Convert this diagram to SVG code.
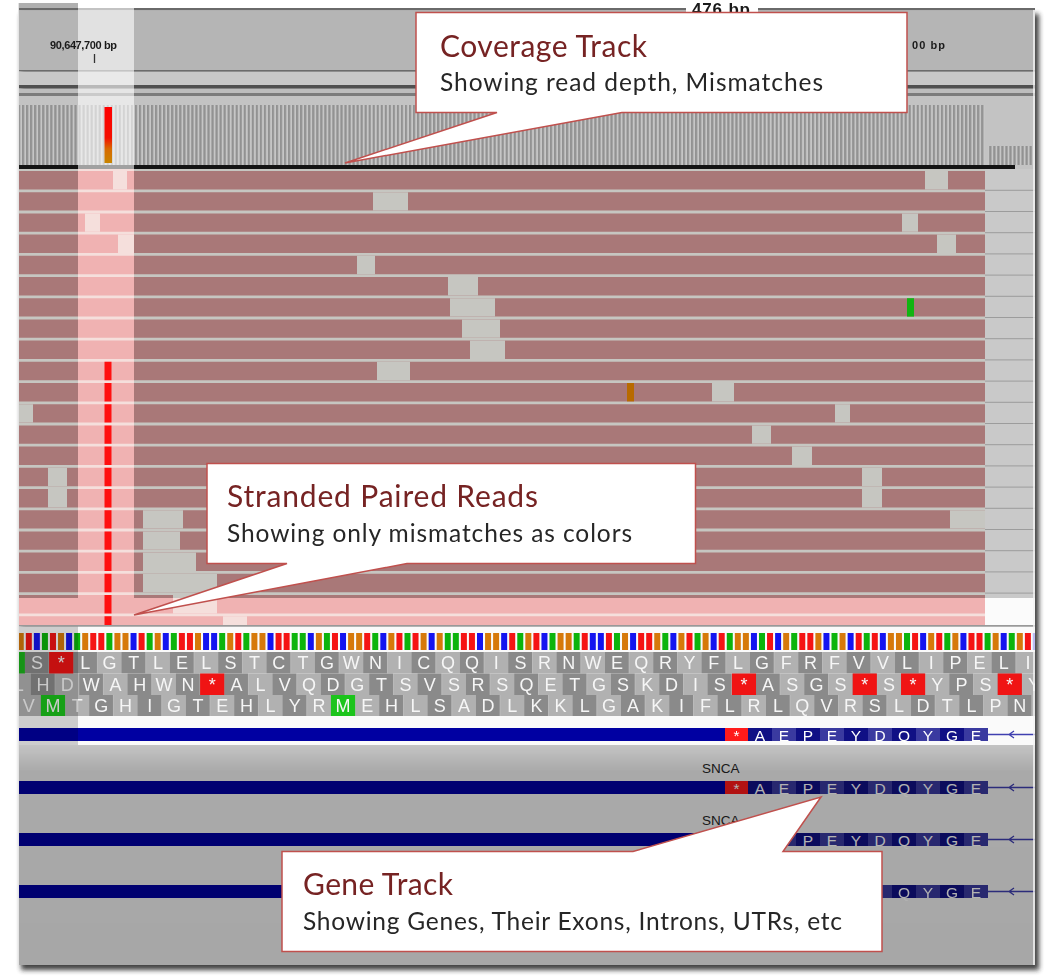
<svg xmlns="http://www.w3.org/2000/svg" width="1050" height="980" viewBox="0 0 1050 980">
<defs>
<style>
.hdr{font-family:"Liberation Sans",Arial,sans-serif;font-weight:bold;fill:#1a1a1a}
.aa{font-family:"Liberation Sans",Arial,sans-serif;font-size:18px;fill:#f6f6f6;text-anchor:middle}
.ex{font-family:"Liberation Sans",Arial,sans-serif;font-size:15.5px;fill:#ffffff;text-anchor:middle}
.gene{font-family:"Liberation Sans",Arial,sans-serif;font-size:13.5px;fill:#262626}
.box{fill:#fff;stroke:#c0504d;stroke-width:1.5;stroke-linejoin:miter}
.ttl{font-family:Lato,"Open Sans",sans-serif;font-size:30px;fill:#762323}
.sub{font-family:Lato,"Open Sans",sans-serif;font-size:24.5px;fill:#262626}
.hi{fill:#d26e6e;mix-blend-mode:screen}
</style>
<clipPath id="frame"><rect x="18" y="3" width="1017" height="962"/></clipPath>
<filter id="soft" x="-5%" y="-5%" width="110%" height="110%"><feGaussianBlur stdDeviation="2.5"/></filter>
<pattern id="cov" patternUnits="userSpaceOnUse" x="18" y="0" width="4.03" height="60"><rect width="4.03" height="60" fill="#c6c6c6"/><rect width="2.2" height="60" fill="#929292"/></pattern>
<pattern id="aaA" patternUnits="userSpaceOnUse" x="24.915" y="0" width="48.34" height="40"><rect width="24.17" height="40" fill="#8a8a8a"/><rect x="24.17" width="24.17" height="40" fill="#b1b1b1"/></pattern>
<pattern id="aaB" patternUnits="userSpaceOnUse" x="30.915" y="0" width="48.34" height="40"><rect width="24.17" height="40" fill="#8a8a8a"/><rect x="24.17" width="24.17" height="40" fill="#b1b1b1"/></pattern>
<pattern id="aaC" patternUnits="userSpaceOnUse" x="40.915" y="0" width="48.34" height="40"><rect width="24.17" height="40" fill="#8a8a8a"/><rect x="24.17" width="24.17" height="40" fill="#b1b1b1"/></pattern>
<linearGradient id="covHot" x1="0" y1="0" x2="0" y2="1"><stop offset="0" stop-color="#ff0000"/><stop offset="0.55" stop-color="#f41000"/><stop offset="0.75" stop-color="#d86a00"/><stop offset="1" stop-color="#c88400"/></linearGradient>
<linearGradient id="dim" x1="0" y1="0" x2="0" y2="1"><stop offset="0" stop-color="#000" stop-opacity="0.19"/><stop offset="0.12" stop-color="#000" stop-opacity="0.3"/><stop offset="1" stop-color="#000" stop-opacity="0.31"/></linearGradient>
<!-- one gene model: intron line, stop codon, exon codons, strand arrow -->
<g id="exset">
<rect x="18" width="707" height="13" fill="#0000a2"/>
<rect x="725" width="23" height="13" fill="#ff1a1a"/>
<path fill="#101085" d="M748 0h24v13h-24zM796 0h24v13h-24zM844 0h24v13h-24zM892 0h24v13h-24zM940 0h24v13h-24z"/>
<path fill="#3a3aa0" d="M772 0h24v13h-24zM820 0h24v13h-24zM868 0h24v13h-24zM916 0h24v13h-24zM964 0h24v13h-24z"/>
<path d="M988 6.5H1035M1014 3l-5 3.5 5 3.5" fill="none" stroke="#4040b0" stroke-width="1.3"/>
</g>
</defs>

<rect width="1050" height="980" fill="#fff"/>
<!-- frame shadow -->
<rect x="21" y="14" width="1018" height="956" fill="#222" opacity="0.85" filter="url(#soft)"/>

<g id="screen" clip-path="url(#frame)">
<!-- ruler header -->
<rect x="18" y="3" width="60" height="6" fill="#b0b0b0"/>
<rect x="18" y="8" width="1017" height="2.5" fill="#6a6a6a"/>
<rect x="18" y="10.5" width="1017" height="60" fill="#b5b5b5"/>
<rect x="18" y="70" width="1017" height="1.5" fill="#6c6c6c"/>
<rect x="18" y="71.5" width="1017" height="13.5" fill="#c8c8c8"/>
<rect x="18" y="85" width="1017" height="3.5" fill="#505050"/>
<rect x="18" y="88.5" width="1017" height="4.5" fill="#bdbdbd"/>
<rect x="18" y="93" width="1017" height="3" fill="#7c7c7c"/>
<rect x="18" y="96" width="1017" height="73" fill="#c3c3c3"/>
<!-- coverage track -->
<rect x="18" y="105" width="967" height="60" fill="url(#cov)"/>
<rect x="988" y="146" width="44" height="19" fill="url(#cov)"/>
<rect x="18" y="165" width="997" height="4" fill="#141414"/>

<!-- alignment rows -->
<g id="reads">
<rect x="18" y="169" width="967" height="456" fill="#c6c6c1"/>
<path fill="#a97878" d="M18 171h967v18.4H18zM18 192.2h967v18.4H18zM18 213.4h967v18.4H18zM18 234.6h967v18.4H18zM18 255.8h967v18.4H18zM18 277h967v18.4H18zM18 298.2h967v18.4H18zM18 319.4h967v18.4H18zM18 340.6h967v18.4H18zM18 361.8h967v18.4H18zM18 383h967v18.4H18zM18 404.2h967v18.4H18zM18 425.4h967v18.4H18zM18 446.6h967v18.4H18zM18 467.8h967v18.4H18zM18 489h967v18.4H18zM18 510.2h967v18.4H18zM18 531.4h967v18.4H18zM18 552.6h967v18.4H18zM18 573.8h967v18.4H18zM18 595h967v18.4H18zM18 616.2h967v8.8H18z"/>
<path fill="#c6c6c1" d="M113 171h14v18.4h-14zM925 171h23v18.4h-23zM373 192.2h35v18.4h-35zM85 213.4h15v18.4h-15zM902 213.4h16v18.4h-16zM118 234.6h16v18.4h-16zM937 234.6h19v18.4h-19zM357 255.8h18v18.4h-18zM448 277h30v18.4h-30zM450 298.2h45v18.4h-45zM462 319.4h38v18.4h-38zM470 340.6h35v18.4h-35zM377 361.8h33v18.4h-33zM712 383h22v18.4h-22zM18 404.2h15v18.4h-15zM835 404.2h15v18.4h-15zM752 425.4h19v18.4h-19zM792 446.6h20v18.4h-20zM48 467.8h19v18.4h-19zM862 467.8h20v18.4h-20zM48 489h19v18.4h-19zM862 489h20v18.4h-20zM143 510.2h40v18.4h-40zM950 510.2h35v18.4h-35zM143 531.4h37v18.4h-37zM143 552.6h53v18.4h-53zM143 573.8h74v18.4h-74zM173 595h44v18.4h-44zM223 616.2h24v8.8h-24z"/>
<rect x="907" y="298.2" width="7" height="18.4" fill="#12b412"/>
<rect x="627" y="383" width="7" height="18.4" fill="#b86a00"/>
</g>
<rect x="985" y="169" width="50" height="429" fill="#c9c9c9"/>
<path stroke="#9c9c9c" stroke-width="1" d="M985 190.3h50M985 211.5h50M985 232.7h50M985 253.9h50M985 275.1h50M985 296.3h50M985 317.5h50M985 338.7h50M985 359.9h50M985 381.1h50M985 402.3h50M985 423.5h50M985 444.7h50M985 465.9h50M985 487.1h50M985 508.3h50M985 529.5h50M985 550.7h50M985 571.9h50M985 593.1h50"/>

<!-- highlighted column and bottom strip -->
<rect x="78" y="3" width="56" height="166" fill="#fff" opacity="0.6"/>
<rect class="hi" x="78" y="169" width="56" height="456"/>
<rect class="hi" x="18" y="598" width="60" height="27"/>
<rect class="hi" x="134" y="598" width="851" height="27"/>
<rect x="985" y="598" width="50" height="27" fill="#fbfbfb"/>
<rect x="104.5" y="107" width="7.5" height="56" fill="url(#covHot)"/>
<path fill="#ff1010" d="M104.5 361.8h7v18.4h-7zM104.5 383h7v18.4h-7zM104.5 404.2h7v18.4h-7zM104.5 425.4h7v18.4h-7zM104.5 446.6h7v18.4h-7zM104.5 467.8h7v18.4h-7zM104.5 489h7v18.4h-7zM104.5 510.2h7v18.4h-7zM104.5 531.4h7v18.4h-7zM104.5 552.6h7v18.4h-7zM104.5 573.8h7v18.4h-7zM104.5 595h7v18.4h-7zM104.5 616.2h7v8.8h-7z"/>

<text class="hdr" x="50" y="48.5" font-size="11" textLength="67">90,647,700 bp</text>
<path d="M94.5 54v9" stroke="#333" stroke-width="1.3"/>
<text class="hdr" x="912" y="48.5" font-size="11" textLength="33">00 bp</text>
<rect x="686" y="0" width="72" height="12" fill="#fff"/>
<text class="hdr" x="692" y="15" font-size="17" textLength="58">476 bp</text>

<!-- sequence and translation -->
<rect x="18" y="625" width="1017" height="1.5" fill="#999"/>
<rect x="18" y="626.5" width="1017" height="118.5" fill="#fafafa"/>
<g id="sequence">
<path fill="#0cb40c" d="M41.92 633h6v17h-6zM74.15 633h6v17h-6zM106.38 633h6v17h-6zM146.66 633h6v17h-6zM170.83 633h6v17h-6zM219.18 633h6v17h-6zM243.35 633h6v17h-6zM291.69 633h6v17h-6zM299.75 633h6v17h-6zM323.92 633h6v17h-6zM372.26 633h6v17h-6zM404.49 633h6v17h-6zM444.77 633h6v17h-6zM452.83 633h6v17h-6zM517.28 633h6v17h-6zM549.51 633h6v17h-6zM573.68 633h6v17h-6zM613.97 633h6v17h-6zM662.31 633h6v17h-6zM694.54 633h6v17h-6zM726.77 633h6v17h-6zM758.99 633h6v17h-6zM791.22 633h6v17h-6zM831.51 633h6v17h-6zM863.74 633h6v17h-6zM904.02 633h6v17h-6zM944.31 633h6v17h-6zM984.59 633h6v17h-6zM1008.76 633h6v17h-6z"/>
<path fill="#1414f0" d="M33.86 633h6v17h-6zM66.09 633h6v17h-6zM130.55 633h6v17h-6zM162.78 633h6v17h-6zM203.06 633h6v17h-6zM211.12 633h6v17h-6zM267.52 633h6v17h-6zM307.8 633h6v17h-6zM340.03 633h6v17h-6zM380.32 633h6v17h-6zM428.66 633h6v17h-6zM477 633h6v17h-6zM501.17 633h6v17h-6zM541.46 633h6v17h-6zM589.8 633h6v17h-6zM597.85 633h6v17h-6zM630.08 633h6v17h-6zM670.37 633h6v17h-6zM710.65 633h6v17h-6zM750.94 633h6v17h-6zM775.11 633h6v17h-6zM823.45 633h6v17h-6zM847.62 633h6v17h-6zM879.85 633h6v17h-6zM920.13 633h6v17h-6zM960.42 633h6v17h-6zM1000.7 633h6v17h-6zM1032.93 633h6v17h-6z"/>
<path fill="#d6790a" d="M17.75 633h6v17h-6zM58.04 633h6v17h-6zM82.21 633h6v17h-6zM114.43 633h6v17h-6zM122.49 633h6v17h-6zM154.72 633h6v17h-6zM195 633h6v17h-6zM227.23 633h6v17h-6zM251.4 633h6v17h-6zM259.46 633h6v17h-6zM315.86 633h6v17h-6zM348.09 633h6v17h-6zM356.14 633h6v17h-6zM388.37 633h6v17h-6zM420.6 633h6v17h-6zM436.71 633h6v17h-6zM485.06 633h6v17h-6zM493.11 633h6v17h-6zM525.34 633h6v17h-6zM557.57 633h6v17h-6zM565.63 633h6v17h-6zM622.03 633h6v17h-6zM654.25 633h6v17h-6zM678.42 633h6v17h-6zM702.6 633h6v17h-6zM734.82 633h6v17h-6zM742.88 633h6v17h-6zM783.17 633h6v17h-6zM815.39 633h6v17h-6zM839.56 633h6v17h-6zM887.91 633h6v17h-6zM895.96 633h6v17h-6zM928.19 633h6v17h-6zM952.36 633h6v17h-6zM992.65 633h6v17h-6zM1016.82 633h6v17h-6z"/>
<path fill="#f51414" d="M25.81 633h6v17h-6zM49.98 633h6v17h-6zM90.26 633h6v17h-6zM98.32 633h6v17h-6zM138.61 633h6v17h-6zM178.89 633h6v17h-6zM186.95 633h6v17h-6zM235.29 633h6v17h-6zM275.57 633h6v17h-6zM283.63 633h6v17h-6zM331.97 633h6v17h-6zM364.2 633h6v17h-6zM396.43 633h6v17h-6zM412.54 633h6v17h-6zM460.89 633h6v17h-6zM468.94 633h6v17h-6zM509.23 633h6v17h-6zM533.4 633h6v17h-6zM581.74 633h6v17h-6zM605.91 633h6v17h-6zM638.14 633h6v17h-6zM646.2 633h6v17h-6zM686.48 633h6v17h-6zM718.71 633h6v17h-6zM767.05 633h6v17h-6zM799.28 633h6v17h-6zM807.34 633h6v17h-6zM855.68 633h6v17h-6zM871.79 633h6v17h-6zM912.08 633h6v17h-6zM936.25 633h6v17h-6zM968.48 633h6v17h-6zM976.53 633h6v17h-6zM1024.88 633h6v17h-6z"/>
</g>
<g id="translation">
<rect x="18" y="652" width="1017" height="21.5" fill="url(#aaA)"/>
<rect x="18" y="673.5" width="1017" height="21.5" fill="url(#aaB)"/>
<rect x="18" y="695" width="1017" height="21" fill="url(#aaC)"/>
<rect x="18" y="652" width="6.9" height="21.5" fill="#1cb41c"/>
<rect x="49.09" y="652" width="24.17" height="21.5" fill="#f01414"/>
<path fill="#f01414" d="M200.1 673.5h24.17v21.5h-24.17zM731.85 673.5h24.17v21.5h-24.17zM852.7 673.5h24.17v21.5h-24.17zM901.04 673.5h24.17v21.5h-24.17zM997.72 673.5h24.17v21.5h-24.17z"/>
<path fill="#1cc41c" d="M40.92 695h24.17v21h-24.17zM330.96 695h24.17v21h-24.17z"/>
<text class="aa" y="669" x="37 61.2 85.3 109.5 133.7 157.9 182 206.2 230.4 254.5 278.7 302.9 327 351.2 375.4 399.6 423.7 447.9 472.1 496.2 520.4 544.6 568.7 592.9 617.1 641.3 665.4 689.6 713.8 737.9 762.1 786.3 810.4 834.6 858.8 883 907.1 931.3 955.5 979.6 1003.8 1028">S*LGTLELSTCTGWNICQQISRNWEQRYFLGFRFVVLIPELI</text>
<text class="aa" y="691" x="18.8 43 67.2 91.3 115.5 139.7 163.9 188 212.2 236.4 260.5 284.7 308.9 333 357.2 381.4 405.6 429.7 453.9 478.1 502.2 526.4 550.6 574.7 598.9 623.1 647.3 671.4 695.6 719.8 743.9 768.1 792.3 816.4 840.6 864.8 889 913.1 937.3 961.5 985.6 1009.8 1034">LHDWAHWN*ALVQDGTSVSRSQETGSKDIS*ASGS*S*YPS*Y</text>
<text class="aa" y="712" x="28.8 53 77.2 101.3 125.5 149.7 173.9 198 222.2 246.4 270.5 294.7 318.9 343 367.2 391.4 415.6 439.7 463.9 488.1 512.2 536.4 560.6 584.7 608.9 633.1 657.3 681.4 705.6 729.8 753.9 778.1 802.3 826.4 850.6 874.8 899 923.1 947.3 971.5 995.6 1019.8">VMTGHIGTEHLYRMEHLSADLKKLGAKIFLRLQVRSLDTLPN</text>
</g>
<!-- gene track, expanded -->
<g id="gene-main">
<use href="#exset" y="728"/>
<text class="ex" y="740.5" x="736.5 760 784 808 832 856 880 904 928 952 976">*AEPEYDQYGE</text>
</g>
<rect x="18" y="626.5" width="60" height="118.5" fill="#000" opacity="0.18"/>

<g id="gene-isoforms">
<rect x="18" y="745" width="1017" height="220" fill="#f2f2f2"/>
<text class="gene" x="702" y="773">SNCA</text>
<use href="#exset" y="781"/>
<text class="ex" y="793.5" x="736.5 760 784 808 832 856 880 904 928 952 976">*AEPEYDQYGE</text>
<text class="gene" x="702" y="825">SNCA</text>
<use href="#exset" y="833"/>
<text class="ex" y="845.5" x="808 832 856 880 904 928 952 976">PEYDQYGE</text>
<use href="#exset" y="885"/>
<text class="ex" y="897.5" x="904 928 952 976">QYGE</text>
<rect x="18" y="745" width="1017" height="220" fill="url(#dim)"/>
</g>
<path d="M18.5 3V965" stroke="#e4e4e4" stroke-width="1"/>
<path d="M1034 10V965" stroke="#f4f4f4" stroke-width="1.5"/>
</g>

<!-- callouts -->
<g id="callout-coverage">
<path class="box" d="M416 12.5H907V112.5H622L345 163L497 112.5H416Z"/>
<text class="ttl" x="440" y="57" textLength="207">Coverage Track</text>
<text class="sub" x="440" y="91" textLength="383">Showing read depth, Mismatches</text>
</g>
<g id="callout-reads">
<path class="box" d="M207 463.5H695.5V563.5H407L134 615L287 563.5H207Z"/>
<text class="ttl" x="227" y="507" textLength="311">Stranded Paired Reads</text>
<text class="sub" x="227" y="542" textLength="405">Showing only mismatches as colors</text>
</g>
<g id="callout-gene">
<path class="box" d="M282 851.5H633L821 797L783 851.5H882V951.5H282Z"/>
<text class="ttl" x="303" y="895" textLength="150">Gene Track</text>
<text class="sub" x="303" y="930" textLength="539">Showing Genes, Their Exons, Introns, UTRs, etc</text>
</g>
</svg>
